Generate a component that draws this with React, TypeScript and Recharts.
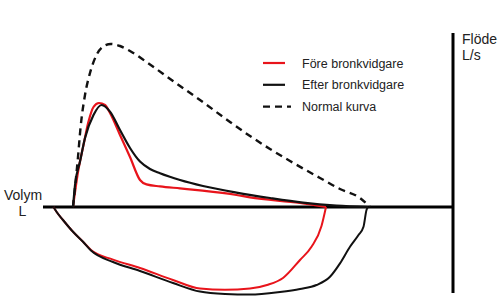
import { ComposedChart, Line, XAxis, YAxis, ReferenceLine, Legend } from "recharts";

const FONT = "Arial, 'Liberation Sans', sans-serif";
const RED = "#e8141b";
const BLACK = "#111";

// volym (L) och flöde (L/s)
const NORMAL_VOL = [0.6, 0.7, 0.75, 0.84, 0.94, 1.07, 1.22, 1.36, 1.54, 1.74, 2.07, 2.6, 3.14, 3.74, 4.14, 4.54, 4.94, 5.54, 5.94, 6.34, 6.54];
const NORMAL_FLOW = [0, 2.5, 3.95, 5.6, 6.7, 7.6, 8.05, 8.15, 8.05, 7.8, 7.25, 6.3, 5.35, 4.25, 3.55, 2.9, 2.3, 1.45, 0.9, 0.45, 0];

const FORE_UT_VOL = [0.6, 0.7, 0.81, 0.91, 1.01, 1.12, 1.24, 1.34, 1.54, 1.74, 1.94, 2.07, 2.34, 2.74, 3.14, 3.87, 4.14, 5.14, 5.66];
const FORE_UT_FLOW = [0, 1.75, 3.1, 4.27, 5.0, 5.2, 5.1, 4.7, 3.6, 2.5, 1.35, 1.13, 1.03, 0.93, 0.83, 0.6, 0.48, 0.2, 0];

const FORE_IN_VOL = [0.21, 0.27, 0.4, 0.6, 0.8, 0.96, 1.4, 1.94, 2.6, 3.14, 3.64, 4.14, 4.48, 4.8, 5.14, 5.37, 5.57, 5.66];
const FORE_IN_FLOW = [0, -0.24, -0.65, -1.24, -1.74, -2.15, -2.63, -3.05, -3.65, -4.08, -4.14, -4.08, -3.9, -3.55, -2.65, -1.99, -0.95, 0];

const EFTER_UT_VOL = [0.6, 0.64, 0.74, 0.84, 1.01, 1.17, 1.34, 1.54, 1.74, 1.94, 2.14, 2.34, 2.74, 3.2, 3.87, 4.54, 5.2, 5.87, 6.5];
const EFTER_UT_FLOW = [0, 1.1, 2.27, 3.45, 4.6, 5.1, 4.77, 3.85, 2.95, 2.27, 1.9, 1.69, 1.35, 1.05, 0.72, 0.45, 0.22, 0.07, 0];

const EFTER_IN_VOL = [0.21, 0.27, 0.4, 0.6, 0.8, 0.96, 1.4, 1.94, 2.6, 3.14, 3.64, 4.14, 4.74, 5.14, 5.47, 5.74, 5.94, 6.14, 6.31, 6.41, 6.47, 6.5];
const EFTER_IN_FLOW = [0, -0.24, -0.65, -1.24, -1.74, -2.18, -2.75, -3.2, -3.8, -4.23, -4.35, -4.38, -4.25, -4.1, -3.9, -3.49, -2.82, -1.99, -1.4, -0.99, -0.15, 0];

const NAMES = ["Före bronkvidgare", "Efter bronkvidgare", "Normal kurva"];

const VOL_MAX = 8.2;
const FLOW_DOMAIN = [-4.5, 8.7];

const zip = (vol: number[], flow: number[]) => vol.map((v, i) => ({ v, f: flow[i] }));

function LegendBox({ payload }: any) {
  const items = NAMES.map((n) => (payload ?? []).find((e: any) => e.value === n)).filter(Boolean);
  return (
    <svg width={220} height={70} style={{ overflow: "visible" }}>
      {items.map((entry: any, i: number) => {
        const y = 13 + i * 21.8;
        return (
          <g key={entry.value}>
            <line
              x1={3}
              x2={i === 2 ? 31 : 25}
              y1={y}
              y2={y}
              stroke={entry.color}
              strokeWidth={2.2}
              strokeDasharray={entry.payload?.strokeDasharray}
            />
            <text x={42} y={y + 4.5} fontSize={12.5} fill="#222" fontFamily={FONT}>
              {entry.value}
            </text>
          </g>
        );
      })}
    </svg>
  );
}

export default function App() {
  return (
    <div style={{ position: "absolute", left: 0, top: 0, background: "#fff" }}>
      <ComposedChart width={500} height={298} margin={{ top: 33, right: 47, bottom: 1, left: 43 }}>
        <XAxis type="number" dataKey="v" domain={[0, VOL_MAX]} hide />
        <YAxis type="number" dataKey="f" domain={FLOW_DOMAIN} hide />
        <ReferenceLine segment={[{ x: 0, y: 0 }, { x: VOL_MAX, y: 0 }]} stroke="#000" strokeWidth={3} />
        <ReferenceLine segment={[{ x: VOL_MAX, y: 8.7 }, { x: VOL_MAX, y: -4.3 }]} stroke="#000" strokeWidth={3} />
        <Line data={zip(FORE_UT_VOL, FORE_UT_FLOW)} dataKey="f" name={NAMES[0]} type="monotone" stroke={RED} strokeWidth={2.2} dot={false} isAnimationActive={false} />
        <Line data={zip(FORE_IN_VOL, FORE_IN_FLOW)} dataKey="f" name="fore-in" legendType="none" type="monotone" stroke={RED} strokeWidth={2} dot={false} isAnimationActive={false} />
        <Line data={zip(EFTER_UT_VOL, EFTER_UT_FLOW)} dataKey="f" name={NAMES[1]} type="monotone" stroke={BLACK} strokeWidth={2.2} dot={false} isAnimationActive={false} />
        <Line data={zip(EFTER_IN_VOL, EFTER_IN_FLOW)} dataKey="f" name="efter-in" legendType="none" type="monotone" stroke={BLACK} strokeWidth={2} dot={false} isAnimationActive={false} />
        <Line data={zip(NORMAL_VOL, NORMAL_FLOW)} dataKey="f" name={NAMES[2]} type="monotone" stroke={BLACK} strokeWidth={2.4} strokeDasharray="7 5" dot={false} isAnimationActive={false} />
        <Legend
          content={<LegendBox />}
          layout="vertical"
          align="center"
          verticalAlign="middle"
          wrapperStyle={{ left: 260, top: 50, width: 220, height: 70 }}
        />
        <text x={462} y={43.5} fontSize={14} fill="#222" fontFamily={FONT}>Flöde</text>
        <text x={462} y={60} fontSize={14} fill="#222" fontFamily={FONT}>L/s</text>
        <text x={4} y={199.5} fontSize={14} fill="#222" fontFamily={FONT}>Volym</text>
        <text x={18.5} y={215.5} fontSize={14} fill="#222" fontFamily={FONT}>L</text>
      </ComposedChart>
    </div>
  );
}
